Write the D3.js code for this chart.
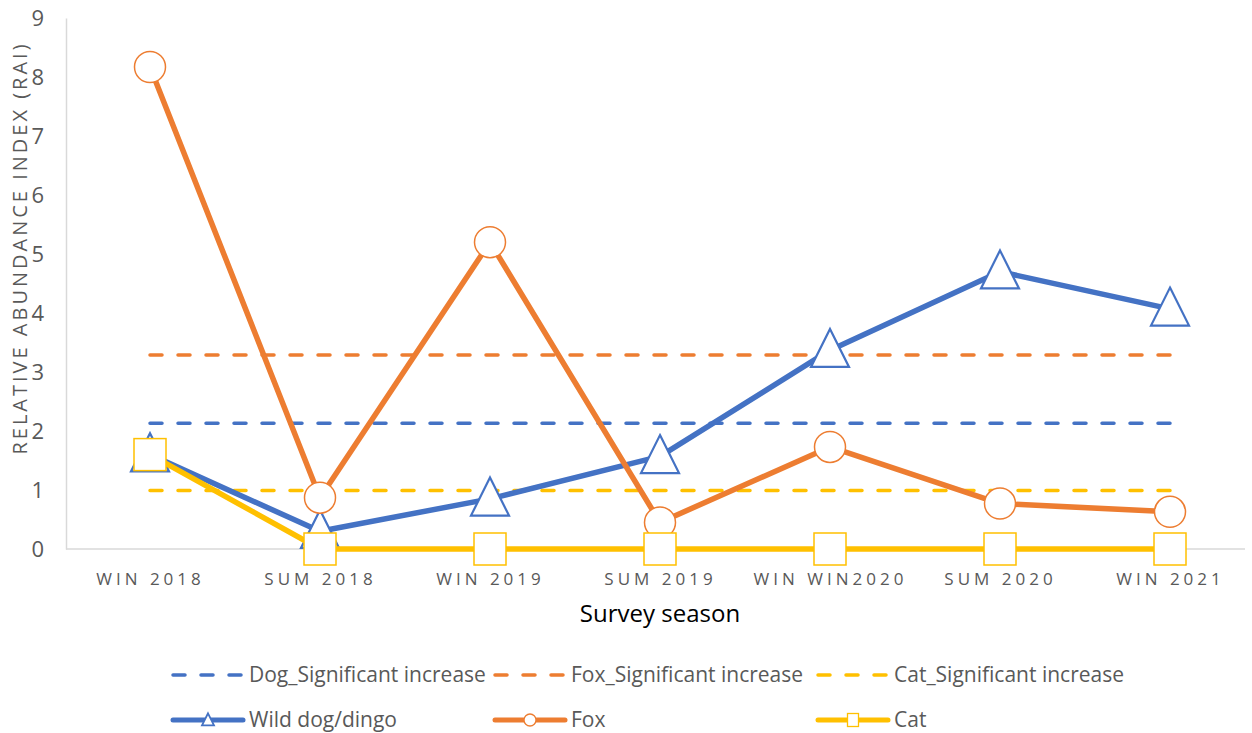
<!DOCTYPE html>
<html>
<head>
<meta charset="utf-8">
<script src="https://cdn.jsdelivr.net/npm/d3@7"></script>
<style>
  body { margin: 0; background: #fff; }
  text { font-family: "Open Sans", sans-serif; fill: #595959; }
</style>
</head>
<body>
<svg width="1252" height="733"></svg>
<script>
var svg = d3.select("svg"),
  width = +svg.attr("width"),
  height = +svg.attr("height");

// survey seasons (x categories)
const seasons = ["WIN 2018", "SUM 2018", "WIN 2019", "SUM 2019", "WIN WIN2020", "SUM 2020", "WIN 2021"];
// relative abundance index per season
const dog = [1.6, 0.3, 0.85, 1.57, 3.37, 4.7, 4.07];
const fox = [8.17, 0.87, 5.2, 0.45, 1.73, 0.77, 0.63];
const cat = [1.6, 0, 0, 0, 0, 0, 0];
// significant increase thresholds
const dogSig = 2.13;
const foxSig = 3.29;
const catSig = 0.99;
const yTicks = [0, 1, 2, 3, 4, 5, 6, 7, 8, 9];

const blue = "#4472C4", orange = "#ED7D31", yellow = "#FFC000";

var x = d3.scalePoint()
  .domain(seasons)
  .range([65, 1255])
  .padding(0.5);

var y = d3.scaleLinear()
  .domain([0, 9])
  .range([549, 18]);

// axes
var gy = svg.append("g").attr("transform", "translate(66,0)")
  .call(d3.axisLeft(y).tickValues(yTicks).tickSize(0).tickPadding(22));
gy.select(".domain").attr("stroke", "#d9d9d9").attr("stroke-width", 1.5);
gy.selectAll("text").attr("font-size", 22).attr("fill", "#595959");

var gx = svg.append("g").attr("transform", "translate(0,549)")
  .call(d3.axisBottom(x).tickSize(0).tickPadding(24));
gx.select(".domain").attr("d", "M66,0H1245").attr("stroke", "#d9d9d9").attr("stroke-width", 1.5);
gx.selectAll("text").attr("font-size", 17).attr("letter-spacing", "4px").attr("fill", "#595959");

svg.append("text")
  .attr("x", 660).attr("y", 622)
  .attr("text-anchor", "middle")
  .attr("font-size", 24)
  .style("fill", "#000")
  .text("Survey season");

svg.append("text")
  .attr("transform", "translate(27,248) rotate(-90)")
  .attr("text-anchor", "middle")
  .attr("font-size", 20)
  .attr("letter-spacing", "3px")
  .text("RELATIVE ABUNDANCE INDEX (RAI)");

// threshold dashed lines
var sigs = [[dogSig, blue], [foxSig, orange], [catSig, yellow]];
svg.append("g").selectAll("line")
  .data(sigs)
  .enter().append("line")
  .attr("x1", x(seasons[0])).attr("x2", x(seasons[seasons.length - 1]))
  .attr("y1", function(d) { return y(d[0]); })
  .attr("y2", function(d) { return y(d[0]); })
  .attr("stroke", function(d) { return d[1]; })
  .attr("stroke-width", 3.5)
  .attr("stroke-linecap", "round")
  .attr("stroke-dasharray", "12,16");

var line = d3.line()
  .x(function(d, i) { return x(seasons[i]); })
  .y(function(d) { return y(d); });

function triPath(s) {
  return "M0," + (-s * 0.56) + "L" + (s / 2) + "," + (s * 0.44) + "L" + (-s / 2) + "," + (s * 0.44) + "Z";
}

function drawSeries(vals, color, marker) {
  svg.append("path")
    .datum(vals)
    .attr("fill", "none")
    .attr("stroke", color)
    .attr("stroke-width", 5.5)
    .attr("stroke-linejoin", "round")
    .attr("d", line);
  var g = svg.append("g");
  vals.forEach(function(v, i) {
    var cx = x(seasons[i]), cy = y(v);
    if (marker == "tri") {
      g.append("path").attr("d", triPath(38))
        .attr("transform", "translate(" + cx + "," + cy + ")")
        .attr("fill", "#fff").attr("stroke", color).attr("stroke-width", 2.2);
    } else if (marker == "circle") {
      g.append("circle").attr("cx", cx).attr("cy", cy).attr("r", 15.5)
        .attr("fill", "#fff").attr("stroke", color).attr("stroke-width", 1.5);
    } else {
      g.append("rect").attr("x", cx - 16).attr("y", cy - 16).attr("width", 32).attr("height", 32)
        .attr("fill", "#fff").attr("stroke", color).attr("stroke-width", 1.5);
    }
  });
}

drawSeries(dog, blue, "tri");
drawSeries(fox, orange, "circle");
drawSeries(cat, yellow, "square");

// legend
var legend1 = [
  { label: "Dog_Significant increase", color: blue, x: 173 },
  { label: "Fox_Significant increase", color: orange, x: 495 },
  { label: "Cat_Significant increase", color: yellow, x: 818 }
];
var legend2 = [
  { label: "Wild dog/dingo", color: blue, x: 173, m: "tri" },
  { label: "Fox", color: orange, x: 495, m: "circle" },
  { label: "Cat", color: yellow, x: 818, m: "square" }
];

var l1 = svg.append("g").attr("transform", "translate(0,675)");
l1.selectAll("line").data(legend1).enter().append("line")
  .attr("x1", function(d) { return d.x; })
  .attr("x2", function(d) { return d.x + 70; })
  .attr("stroke", function(d) { return d.color; })
  .attr("stroke-width", 3.5)
  .attr("stroke-linecap", "round")
  .attr("stroke-dasharray", "12,16");
l1.selectAll("text").data(legend1).enter().append("text")
  .attr("x", function(d) { return d.x + 76; })
  .attr("dy", "0.35em")
  .attr("font-size", 21)
  .text(function(d) { return d.label; });

var l2 = svg.append("g").attr("transform", "translate(0,720)");
l2.selectAll("line").data(legend2).enter().append("line")
  .attr("x1", function(d) { return d.x; })
  .attr("x2", function(d) { return d.x + 70; })
  .attr("stroke", function(d) { return d.color; })
  .attr("stroke-width", 5)
  .attr("stroke-linecap", "round");
legend2.forEach(function(d) {
  var cx = d.x + 35;
  if (d.m == "tri") {
    l2.append("path").attr("d", triPath(12)).attr("transform", "translate(" + cx + ",0)")
      .attr("fill", "#fff").attr("stroke", d.color).attr("stroke-width", 1.8);
  } else if (d.m == "circle") {
    l2.append("circle").attr("cx", cx).attr("r", 6)
      .attr("fill", "#fff").attr("stroke", d.color).attr("stroke-width", 1.3);
  } else {
    l2.append("rect").attr("x", cx - 5.5).attr("y", -6.5).attr("width", 11).attr("height", 13)
      .attr("fill", "#fff").attr("stroke", d.color).attr("stroke-width", 1.3);
  }
});
l2.selectAll("text").data(legend2).enter().append("text")
  .attr("x", function(d) { return d.x + 76; })
  .attr("dy", "0.35em")
  .attr("font-size", 21)
  .text(function(d) { return d.label; });
</script>
</body>
</html>
